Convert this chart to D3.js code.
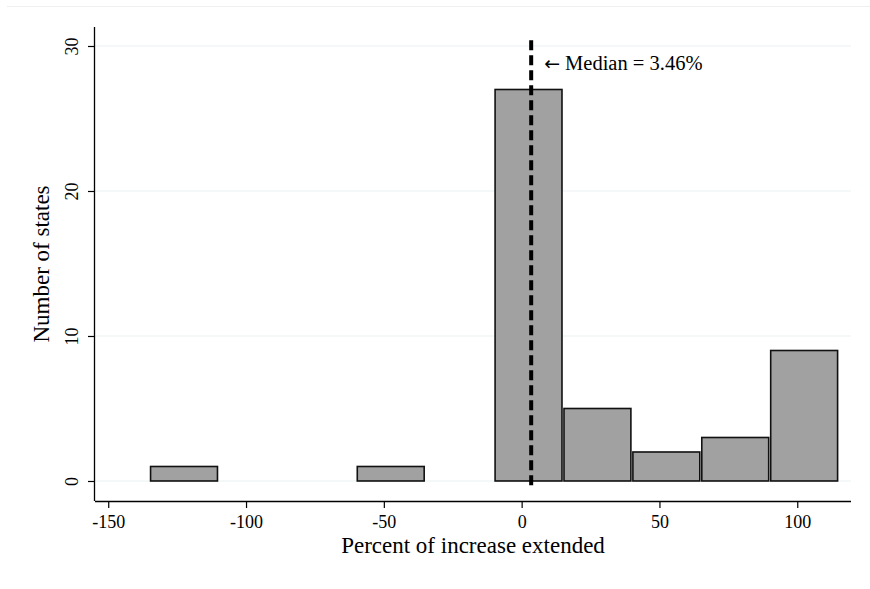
<!DOCTYPE html>
<html><head><meta charset="utf-8">
<script src="https://cdn.jsdelivr.net/npm/d3@7/dist/d3.min.js"></script>
<style>body{margin:0;background:#fff}svg{display:block}text{font-family:"Liberation Serif","DejaVu Serif",serif;fill:#000}</style>
</head><body>
<svg id="c" width="870" height="589"></svg>
<script>
const binStarts = [-135, -60, -10, 15, 40, 65, 90];
const binWidth = 25;
const counts = [1, 1, 27, 5, 2, 3, 9];
const xTicks = [-150, -100, -50, 0, 50, 100];
const yTicks = [0, 10, 20, 30];
const median = 3.46;
const medianLabel = "Median = 3.46%";
const xTitle = "Percent of increase extended";
const yTitle = "Number of states";

const svg = d3.select("#c");
const L = 95, R = 851, T = 27, B = 501;
const x = d3.scaleLinear().domain([-154.8, 119.5]).range([L, R]);
const y = d3.scaleLinear().domain([-1.38, 31.31]).range([B, T]);

// faint outer frame line
svg.append("line").attr("x1", 7).attr("x2", 870).attr("y1", 6.5).attr("y2", 6.5)
  .attr("stroke", "#eef0f0").attr("stroke-width", 1);

// gridlines
svg.append("g").selectAll("line").data(yTicks).join("line")
  .attr("x1", L).attr("x2", R).attr("y1", d => y(d)).attr("y2", d => y(d))
  .attr("stroke", "#e9f1f3").attr("stroke-width", 1.2);

// bars
svg.append("g").selectAll("rect").data(binStarts).join("rect")
  .attr("x", d => x(d) + 1)
  .attr("width", d => x(d + binWidth) - x(d) - 2)
  .attr("y", (d, i) => y(counts[i]))
  .attr("height", (d, i) => y(0) - y(counts[i]))
  .attr("fill", "#a1a1a1").attr("stroke", "#111").attr("stroke-width", 1.6);

// median line
svg.append("line").attr("x1", x(median)).attr("x2", x(median))
  .attr("y1", y(30.4)).attr("y2", y(-0.5))
  .attr("stroke", "#000").attr("stroke-width", 4).attr("stroke-dasharray", "10,5");

const ann = svg.append("text").attr("x", x(median) + 13).attr("y", y(28.35)).attr("font-size", 20.5);
ann.append("tspan").attr("font-family", "DejaVu Sans").attr("font-size", 19).text("\u2190");
ann.append("tspan").attr("dx", 5).text(medianLabel);

// axes
const xa = svg.append("g").attr("transform", `translate(0,${B})`)
  .call(d3.axisBottom(x).tickValues(xTicks).tickSize(7).tickPadding(7).tickFormat(d3.format("d")));
xa.select(".domain").attr("d", `M${L},0.5H${R}`).attr("stroke", "#000").attr("stroke-width", 1.3);
xa.selectAll(".tick line").attr("stroke", "#000").attr("stroke-width", 1.2);
xa.selectAll(".tick text").attr("font-size", 18).attr("fill", "#000")
  .text(d => d < 0 ? "-" + Math.abs(d) : d);

const ya = svg.append("g").attr("transform", `translate(${L},0)`)
  .call(d3.axisLeft(y).tickValues(yTicks).tickSize(7).tickPadding(0));
ya.select(".domain").attr("d", `M-0.5,${T}V${B}`).attr("stroke", "#000").attr("stroke-width", 1.3);
ya.selectAll(".tick line").attr("stroke", "#000").attr("stroke-width", 1.2);
ya.selectAll(".tick text").attr("font-size", 18).attr("fill", "#000")
  .attr("transform", "translate(-23,0) rotate(-90)").attr("x", 0).attr("dy", "0.35em").attr("text-anchor", "middle");

svg.append("text").attr("x", (L + R) / 2).attr("y", 553).attr("text-anchor", "middle")
  .attr("font-size", 23).text(xTitle);
svg.append("text").attr("transform", `translate(48.5,${(T + B) / 2}) rotate(-90)`)
  .attr("text-anchor", "middle").attr("font-size", 23).text(yTitle);
</script>
</body></html>
